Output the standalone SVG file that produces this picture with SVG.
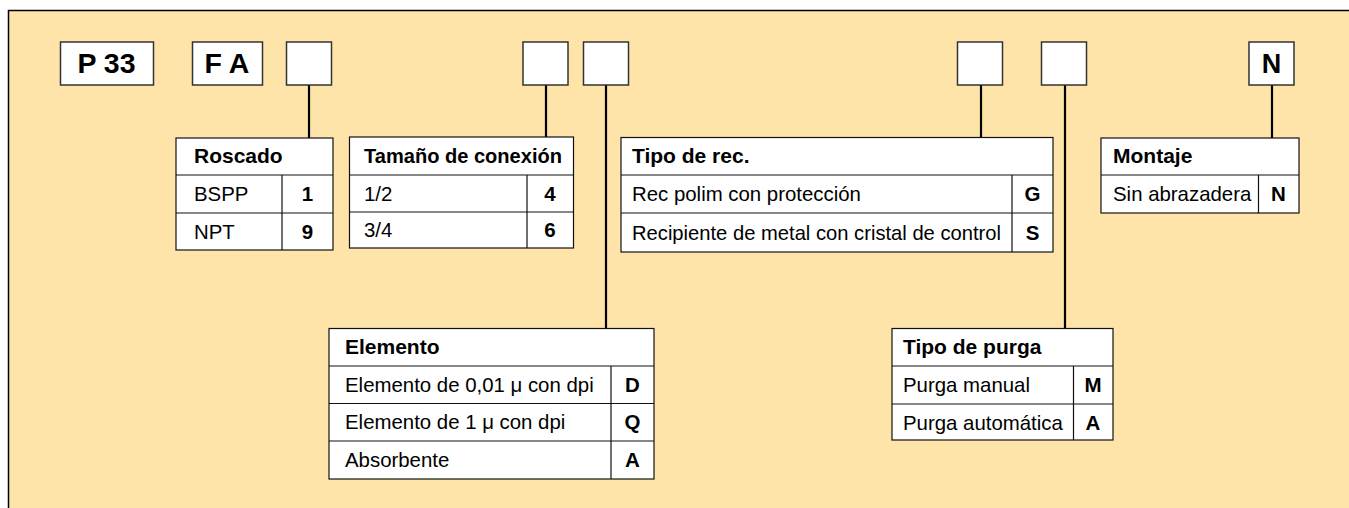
<svg xmlns="http://www.w3.org/2000/svg" width="1349" height="508" viewBox="0 0 1349 508">
<style>
.bg{fill:#FEE4A9;stroke:#000;stroke-width:1.5}
.box{fill:#fff;stroke:#333;stroke-width:1.5}
.tb{fill:#fff;stroke:#111;stroke-width:1.2}
.ln{stroke:#111;stroke-width:1.2;fill:none}
.con{stroke:#000;stroke-width:2.2;fill:none}
text{font-family:"Liberation Sans",Arial,sans-serif;fill:#000}
.big{font-size:28.5px;font-weight:bold;text-anchor:middle}
.hd{font-size:21px;font-weight:bold}
.tx{font-size:20.4px}
.cd{font-size:20.5px;font-weight:bold;text-anchor:middle}
</style>
<rect class="bg" x="8.5" y="10.5" width="1400" height="600"/>
<g id="connectors">
<line class="con" x1="309" y1="85" x2="309" y2="138"/>
<line class="con" x1="546" y1="85" x2="546" y2="137"/>
<line class="con" x1="606" y1="85" x2="606" y2="328"/>
<line class="con" x1="981" y1="85" x2="981" y2="137"/>
<line class="con" x1="1065" y1="85" x2="1065" y2="328"/>
<line class="con" x1="1272" y1="85" x2="1272" y2="138"/>
</g>
<g id="box-p33"><rect class="box" x="60.5" y="42" width="93" height="43"/><text class="big" x="106.5" y="73">P 33</text></g>
<g id="box-fa"><rect class="box" x="192.5" y="42" width="70" height="43"/><text class="big" x="227" y="73">F A</text></g>
<g id="box-3"><rect class="box" x="286.5" y="42" width="45" height="43"/></g>
<g id="box-4"><rect class="box" x="523" y="42" width="45" height="43"/></g>
<g id="box-5"><rect class="box" x="583.5" y="42" width="45" height="43"/></g>
<g id="box-6"><rect class="box" x="957.5" y="42" width="45" height="43"/></g>
<g id="box-7"><rect class="box" x="1041.5" y="42" width="45" height="43"/></g>
<g id="box-n"><rect class="box" x="1249" y="42" width="45" height="43"/><text class="big" x="1271.5" y="73" style="font-size:27px">N</text></g>

<g id="roscado">
<rect class="tb" x="176" y="138" width="157" height="112"/>
<path class="ln" d="M176 175H333M176 213H333M282 175V250"/>
<text class="hd" x="194" y="163">Roscado</text>
<text class="tx" x="194" y="201">BSPP</text><text class="cd" x="307.5" y="201">1</text>
<text class="tx" x="194" y="238.5">NPT</text><text class="cd" x="307.5" y="238.5">9</text>
</g>
<g id="tamano">
<rect class="tb" x="349.5" y="137" width="224" height="111"/>
<path class="ln" d="M349.5 175H573.5M349.5 212H573.5M527 175V248"/>
<text class="hd" x="364" y="162.5" textLength="198" lengthAdjust="spacingAndGlyphs">Tamaño de conexión</text>
<text class="tx" x="364" y="200.5">1/2</text><text class="cd" x="550" y="200.5">4</text>
<text class="tx" x="364" y="237">3/4</text><text class="cd" x="550" y="237">6</text>
</g>
<g id="tipo-rec">
<rect class="tb" x="621" y="137.5" width="432" height="114.5"/>
<path class="ln" d="M621 175H1053M621 213H1053M1012 175V252"/>
<text class="hd" x="632" y="163">Tipo de rec.</text>
<text class="tx" x="632" y="201">Rec polim con protección</text><text class="cd" x="1032.5" y="201">G</text>
<text class="tx" x="632" y="239.5" textLength="369" lengthAdjust="spacingAndGlyphs">Recipiente de metal con cristal de control</text><text class="cd" x="1032.5" y="239.5">S</text>
</g>
<g id="montaje">
<rect class="tb" x="1101" y="138" width="198" height="75"/>
<path class="ln" d="M1101 175H1299M1258.5 175V213"/>
<text class="hd" x="1113" y="163">Montaje</text>
<text class="tx" x="1113" y="201">Sin abrazadera</text><text class="cd" x="1278.5" y="201">N</text>
</g>
<g id="elemento">
<rect class="tb" x="329" y="328.5" width="325" height="150.5"/>
<path class="ln" d="M329 366H654M329 403.5H654M329 441H654M611 366V479"/>
<text class="hd" x="345" y="354">Elemento</text>
<text class="tx" x="345" y="391.5">Elemento de 0,01 μ con dpi</text><text class="cd" x="632.5" y="391.5">D</text>
<text class="tx" x="345" y="429">Elemento de 1 μ con dpi</text><text class="cd" x="632.5" y="429">Q</text>
<text class="tx" x="345" y="467">Absorbente</text><text class="cd" x="632.5" y="467">A</text>
</g>
<g id="tipo-purga">
<rect class="tb" x="892" y="328.5" width="221" height="111.5"/>
<path class="ln" d="M892 366H1113M892 404H1113M1073.5 366V440"/>
<text class="hd" x="903" y="354">Tipo de purga</text>
<text class="tx" x="903" y="392">Purga manual</text><text class="cd" x="1093" y="392">M</text>
<text class="tx" x="903" y="429.5">Purga automática</text><text class="cd" x="1093" y="429.5">A</text>
</g>
</svg>
